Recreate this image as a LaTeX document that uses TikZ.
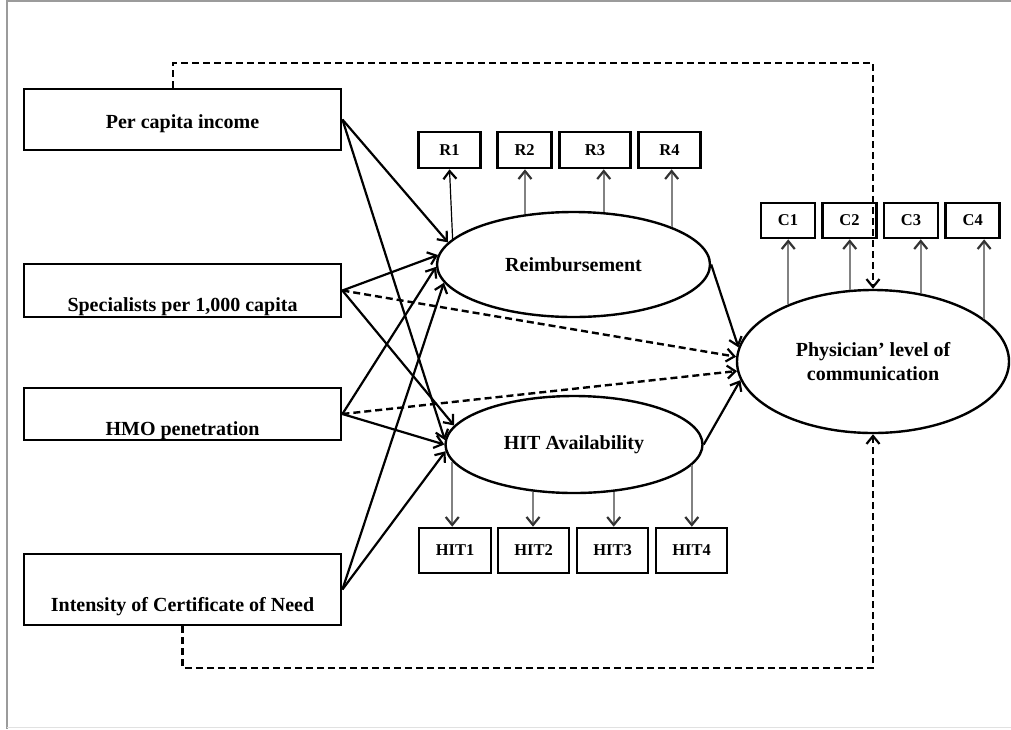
\documentclass[tikz,border=0pt]{standalone}
\usepackage{fontspec}
\setmainfont{Liberation Serif}
\usetikzlibrary{arrows.meta, positioning, calc, shapes}
\definecolor{framegray}{RGB}{155,155,155}
\definecolor{lightframe}{RGB}{225,225,225}
\definecolor{loadgray}{RGB}{130,130,130}

\begin{document}
\begin{tikzpicture}[x=1pt, y=-1pt,
  bigbox/.style={draw, line width=2.8pt, minimum width=317pt, inner sep=0pt,
    font=\fontsize{20}{24}\selectfont\bfseries},
  smallbox/.style={draw, line width=2.6pt, inner sep=0pt,
    font=\fontsize{16.5}{19}\selectfont\bfseries},
  latent/.style={draw, ellipse, line width=2.4pt, inner sep=0pt, align=center,
    font=\fontsize{20}{24}\selectfont\bfseries},
  effect/.style={line width=2.2pt, -{Straight Barb[length=8pt,width=13pt,line width=2.2pt]}},
  direct/.style={effect, line width=2.4pt, dash pattern=on 7pt off 4pt},
  loading/.style={line width=2pt, draw=loadgray,
    -{Straight Barb[length=8pt,width=13pt,line width=2.2pt,color=black!80]}}]
  \useasboundingbox (0,0) rectangle (1011,729);
  % frame
  \draw[framegray, line width=2.5pt] (7,1) -- (1011,1);
  \draw[framegray, line width=2.5pt] (7,0) -- (7,729);
  \draw[lightframe, line width=1pt] (7,727) -- (1011,727);
  % exogenous predictors
  \node[bigbox, text height=39pt, text depth=22pt] (inc) at (182.5,119.5) {Per capita income};
  \node[bigbox, text height=47pt, text depth=6pt] (spec) at (182.5,290.5) {Specialists per 1,000 capita};
  \node[bigbox, text height=47pt, text depth=5pt] (hmo) at (182.5,414) {HMO penetration};
  \node[bigbox, text height=57pt, text depth=14pt] (cert) at (182.5,589.5) {Intensity of Certificate of Need};
  % latent constructs
  \node[latent, minimum width=273pt, minimum height=105pt] (reimb) at (573.5,264.5) {Reimbursement};
  \node[latent, minimum width=257pt, minimum height=97pt] (hitav) at (574,444.5) {HIT Availability};
  \node[latent, minimum width=272pt, minimum height=143pt] (comm) at (873,361.5) {Physician' level of\\communication};
  % indicators
  \foreach \i/\cx/\w in {1/449.5/62, 2/524.6/54, 3/595/71, 4/669.5/62} {
    \node[smallbox, minimum width=\w pt, minimum height=36pt] (r\i) at (\cx,150) {R\i};
  }
  \foreach \i/\cx in {1/788, 2/849.5, 3/911, 4/972.7} {
    \node[smallbox, minimum width=54pt, minimum height=35pt] (c\i) at (\cx,220.5) {C\i};
  }
  \foreach \i/\cx/\w in {1/455/72, 2/533.5/71, 3/612.5/71, 4/691.5/71} {
    \node[smallbox, minimum width=\w pt, minimum height=45pt] (h\i) at (\cx,550.5) {HIT\i};
  }
  % loadings
  \draw[line width=1.2pt, -{Straight Barb[length=8pt,width=13pt,line width=2.2pt]}] (reimb.168) -- (r1.south);
  \foreach \i/\a in {2/134.6, 3/60.1, 4/21.4} {
    \draw[loading] (reimb.\a) -- (reimb.\a |- r\i.south);
  }
  \foreach \i/\a in {1/146.2, 2/108.1, 3/55.6, 4/21.4} {
    \draw[loading] (comm.\a) -- (comm.\a |- c\i.south);
  }
  \foreach \i/\a in {1/188.7, 2/229.1, 3/310.2, 4/350.8} {
    \draw[loading] (hitav.\a) -- (hitav.\a |- h\i.north);
  }
  % paths to the mediators
  \foreach \src/\a in {inc/170.6, spec/176.9, hmo/181.4, cert/188.2} {
    \draw[effect] (\src.east) -- (reimb.\a);
  }
  \foreach \src/\a in {inc/178, spec/171.8, hmo/180.7, cert/183.3} {
    \draw[effect] (\src.east) -- (hitav.\a);
  }
  \draw[effect] (reimb.east) -- (comm.174.4);
  \draw[effect] (hitav.east) -- (comm.188.5);
  % direct effects
  \draw[direct] (spec.east) -- (comm.178.5);
  \draw[direct] (hmo.east) -- (comm.184.8);
  \coordinate (topturn) at (873,63);
  \coordinate (botturn) at (873,668);
  \draw[direct] ($(inc.north)+(-9.5,0)$) |- (comm.north |- topturn) -- (comm.north);
  \draw[direct] (cert.south) |- (comm.south |- botturn) -- (comm.south);
\end{tikzpicture}
\end{document}
